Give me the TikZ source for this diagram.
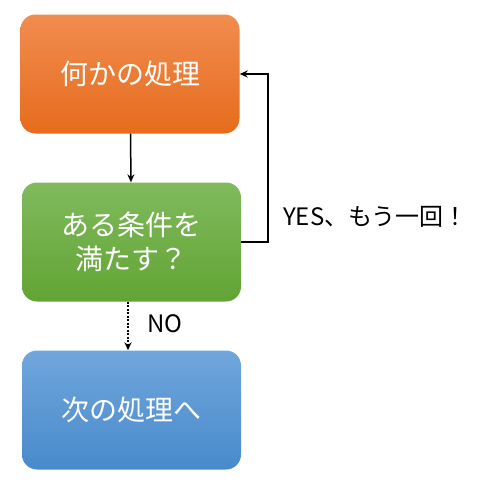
\documentclass[tikz,border=0pt]{standalone}
\usepackage{fontspec}
\setmainfont{Noto Sans CJK JP}
\usetikzlibrary{positioning,arrows.meta}
\begin{document}
\begin{tikzpicture}[x=1pt,y=-1pt,node distance=168pt]
\tikzstyle{block} = [rectangle, rounded corners=15pt, minimum width=219pt, minimum height=119pt, text centered, align=center, text=white, font=\fontsize{28}{34}\selectfont]
\tikzstyle{arrow} = [line width=1.5pt,-{Stealth[length=8pt,width=7pt]}]
\tikzstyle{lbl} = [anchor=west, inner sep=0pt, font=\fontsize{24}{28}\selectfont]
%
\useasboundingbox (0,0) rectangle (480,488);
\node (1) [block, top color={rgb,255:red,241;green,140;blue,80}, bottom color={rgb,255:red,230;green,108;blue,28}] at (130,74) {何かの処理};
\node (2) [block, below of=1, xshift=1.5pt, top color={rgb,255:red,128;green,186;blue,93}, bottom color={rgb,255:red,98;green,164;blue,52}] {ある条件を\\満たす？};
\node (3) [block, below of=2, top color={rgb,255:red,112;green,166;blue,220}, bottom color={rgb,255:red,72;green,138;blue,204}] {次の処理へ};
\node (yes) [lbl] at (283,217) {YES、もう一回！};
\node (no)  [lbl] at (147,324) {NO};
%
\draw [arrow] (1) -- (2);
\draw [arrow, line width=2pt, dash pattern=on 2pt off 1.5pt] ([xshift=-3.5pt]2.south) -- ([xshift=-3.5pt]3.north);
\draw [arrow] (2.east) -- ++(27,0) |- (1.east);
\end{tikzpicture}
\end{document}
